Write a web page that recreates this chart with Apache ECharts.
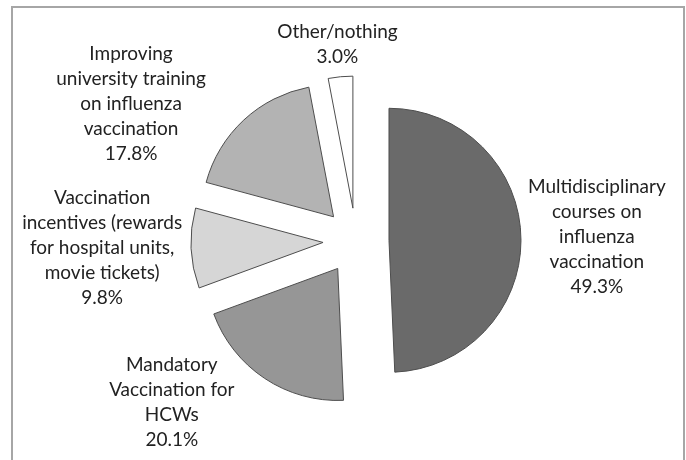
<!DOCTYPE html>
<html>
<head>
<meta charset="utf-8">
<script src="https://cdn.jsdelivr.net/npm/echarts@6/dist/echarts.min.js"></script>
<style>
  html, body { margin: 0; padding: 0; background: #fff; }
  #main { position: absolute; left: 0; top: 0; width: 686px; height: 460px; }
  /* grey frame round the figure, bottom edge falls outside the picture */
  .frame { position: absolute; left: 11px; top: 6px; width: 670px; height: 480px;
           border: 2px solid #a6a6a6; pointer-events: none; }
</style>
</head>
<body>
<div id="main"></div>
<div class="frame"></div>
<script>
// categories, clockwise from 12 o'clock
var categories = [
  'Multidisciplinary\ncourses on\ninfluenza\nvaccination',
  'Mandatory\nVaccination for\nHCWs',
  'Vaccination\nincentives (rewards\nfor hospital units,\nmovie tickets)',
  'Improving\nuniversity training\non influenza\nvaccination',
  'Other/nothing'
];
var values = [49.3, 20.1, 9.8, 17.8, 3.0];
var colors = ['#6a6a6a', '#969696', '#d6d6d6', '#b3b3b3', '#ffffff'];
// label line lengths (invisible lines, they only push the labels out)
var len1 = [0, 29, 0, 22, 32];
var len2 = [2, 9, 4, 18, 0];

var myChart = echarts.init(document.getElementById('main'));

var pieData = categories.map(function (name, i) {
  return {
    name: name,
    value: values[i],
    selected: true,
    itemStyle: { color: colors[i] },
    labelLine: { length: len1[i], length2: len2[i] }
  };
});

var option = {
  animation: false,
  series: [
    {
      type: 'pie',
      center: [356, 241],
      radius: 132,
      startAngle: 90,
      clockwise: true,
      selectedMode: 'multiple',
      selectedOffset: 33,
      avoidLabelOverlap: false,
      itemStyle: { borderColor: '#4d4d4d', borderWidth: 1 },
      select: { itemStyle: { borderColor: '#4d4d4d', borderWidth: 1 } },
      emphasis: { disabled: true },
      labelLine: { show: false },
      label: {
        position: 'outside',
        distanceToLabelLine: 5,
        formatter: function (p) {
          var lines = p.name.split('\n');
          lines.push(p.value.toFixed(1) + '%');
          return lines.map(function (l) { return '{c|' + l + '}'; }).join('\n');
        },
        rich: {
          c: {
            align: 'center',
            fontFamily: 'Lato',
            fontSize: 19,
            lineHeight: 25,
            color: '#222222'
          }
        }
      },
      // the top label sits centred over its slice
      labelLayout: function (p) {
        if (p.dataIndex === 4) {
          return { dx: p.labelRect.width / 2 + 5 };
        }
      },
      data: pieData
    }
  ]
};

myChart.setOption(option);
</script>
</body>
</html>
